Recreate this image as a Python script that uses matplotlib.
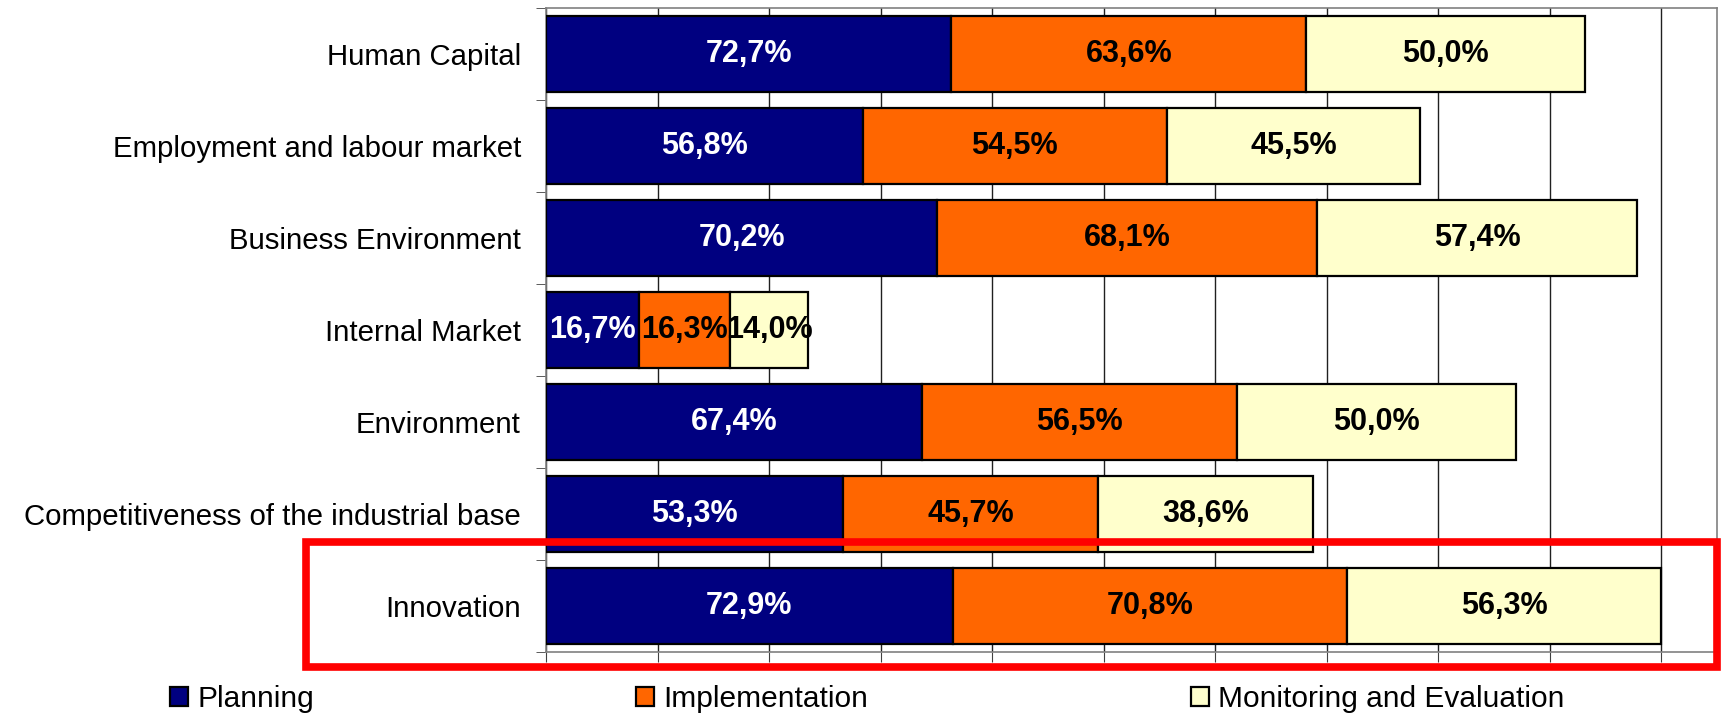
import matplotlib
matplotlib.use("Agg")
import matplotlib.pyplot as plt
from matplotlib.patches import Rectangle

categories = ["Human Capital", "Employment and labour market", "Business Environment",
              "Internal Market", "Environment", "Competitiveness of the industrial base",
              "Innovation"]
planning = [72.7, 56.8, 70.2, 16.7, 67.4, 53.3, 72.9]
implementation = [63.6, 54.5, 68.1, 16.3, 56.5, 45.7, 70.8]
monitoring = [50.0, 45.5, 57.4, 14.0, 50.0, 38.6, 56.3]

series = [("Planning", planning, "#000080", "white"),
          ("Implementation", implementation, "#FF6600", "black"),
          ("Monitoring and Evaluation", monitoring, "#FFFFCC", "black")]

plt.rcParams['font.family'] = ['Liberation Sans', 'DejaVu Sans']

fig = plt.figure(figsize=(17.24, 7.27), dpi=100)
ax = fig.add_axes([546 / 1724, 1 - 652 / 727, (1717 - 546) / 1724, (652 - 8) / 727])

y = list(range(len(categories)))
left = [0] * len(categories)
handles = []
for name, vals, color, tcolor in series:
    bars = ax.barh(y, vals, left=left, height=0.83, color=color,
                   edgecolor="black", linewidth=1.6, label=name, zorder=3)
    handles.append(bars)
    for yi, l, v in zip(y, left, vals):
        ax.text(l + v / 2, yi, f"{v:.1f}%".replace(".", ","), ha="center", va="center",
                color=tcolor, fontsize=22, fontweight="bold", zorder=4)
    left = [a + b for a, b in zip(left, vals)]

ax.set_xlim(0, 210)
ax.set_ylim(len(categories) - 0.5, -0.5)
ax.set_xticks(range(0, 201, 20))
ax.set_xticklabels([])
ax.tick_params(axis="x", direction="out", length=7, color="#404040")
ax.set_yticks(y)
ax.set_yticklabels(categories, fontsize=21.2)
ax.tick_params(axis="y", which="major", length=0, pad=18)
ax.set_yticks([i - 0.5 for i in range(len(categories) + 1)], minor=True)
ax.tick_params(axis="y", which="minor", direction="out", length=7, color="#404040")
ax.grid(axis="x", color="#202020", linewidth=1, zorder=0)
for s in ax.spines.values():
    s.set_color("#808080")
    s.set_linewidth(1.2)

fig.legend(handles=handles, loc="center", bbox_to_anchor=(0.503, 1 - 699 / 727),
           ncol=3, frameon=False, fontsize=21.5, columnspacing=10.8,
           handlelength=0.6, handleheight=0.6, handletextpad=0.3)

fig.patches.append(Rectangle((306 / 1724, 1 - 667 / 727), (1717 - 306) / 1724, (667 - 542) / 727,
                             transform=fig.transFigure, fill=False, edgecolor="#FF0000",
                             linewidth=5.5, zorder=10))

fig.savefig("out.png", dpi=100)
